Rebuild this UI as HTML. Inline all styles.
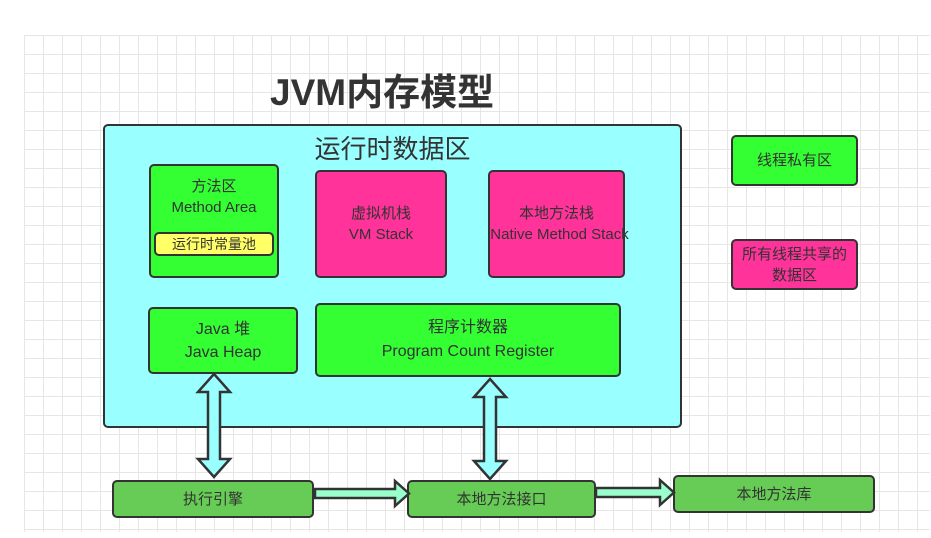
<!DOCTYPE html>
<html><head><meta charset="utf-8"><style>
*{margin:0;padding:0;box-sizing:border-box}
body{width:931px;height:538px;background:#fff;position:relative;overflow:hidden;font-family:"Liberation Sans","Noto Sans CJK SC",sans-serif;}
.grid{position:absolute;left:24px;top:35px;width:906px;height:497px;
background-image:linear-gradient(to right,#e6e6e6 1px,transparent 1px),linear-gradient(to bottom,#e6e6e6 1px,transparent 1px);background-size:19px 19px;}
.b{position:absolute;border:2px solid #333;border-radius:5px;display:flex;flex-direction:column;align-items:center;justify-content:center;text-align:center;color:#333;font-size:15px;line-height:21px;white-space:nowrap}
.g{background:#33ff33}.p{background:#ff3399}.d{background:#66cc55}
</style></head><body>
<div class="grid"></div>
<div style="position:absolute;left:270px;top:62px;font-size:37px;font-weight:bold;color:#333;font-family:'Liberation Sans','Noto Sans CJK SC',sans-serif">JVM内存模型</div>
<div class="b" style="left:103px;top:124px;width:579px;height:304px;background:#99ffff;justify-content:flex-start"></div>
<div style="position:absolute;left:103px;top:129px;width:579px;text-align:center;font-size:26px;color:#333">运行时数据区</div>
<div class="b g" style="left:149px;top:164px;width:130px;height:114px;justify-content:flex-start;padding-top:10px">方法区<br>Method Area</div>
<div class="b" style="left:154px;top:232px;width:120px;height:24px;background:#ffff66;font-size:14px">运行时常量池</div>
<div class="b p" style="left:315px;top:170px;width:132px;height:108px">虚拟机栈<br>VM Stack</div>
<div class="b p" style="left:488px;top:170px;width:137px;height:108px;overflow:visible">本地方法栈<br><span style="margin-left:6px">Native Method Stack</span></div>
<div class="b g" style="left:148px;top:307px;width:150px;height:67px;font-size:16px;line-height:23px">Java 堆<br>Java Heap</div>
<div class="b g" style="left:315px;top:303px;width:306px;height:74px;font-size:16px;line-height:24px">程序计数器<br>Program Count Register</div>
<div class="b g" style="left:731px;top:135px;width:127px;height:51px">线程私有区</div>
<div class="b p" style="left:731px;top:239px;width:127px;height:51px">所有线程共享的<br>数据区</div>
<div class="b d" style="left:112px;top:480px;width:202px;height:38px">执行引擎</div>
<div class="b d" style="left:407px;top:480px;width:189px;height:38px">本地方法接口</div>
<div class="b d" style="left:673px;top:475px;width:202px;height:38px">本地方法库</div>
<svg width="931" height="538" style="position:absolute;left:0;top:0">
<g fill="#99ffff" stroke="#333" stroke-width="2.5" stroke-linejoin="miter">
<polygon points="214,374 230,392 220,392 220,459 230,459 214,477 198,459 208,459 208,392 198,392"/>
<polygon points="490,379 506,397 496,397 496,461 506,461 490,479 474,461 484,461 484,397 474,397"/>
</g>
<g fill="#99ffcc" stroke="#333" stroke-width="2.5">
<polygon points="315,489 395,489 395,481 409,493.5 395,506 395,498 315,498"/>
<polygon points="596,488 660,488 660,480 674,492.5 660,505 660,497 596,497"/>
</g>
</svg>
</body></html>
